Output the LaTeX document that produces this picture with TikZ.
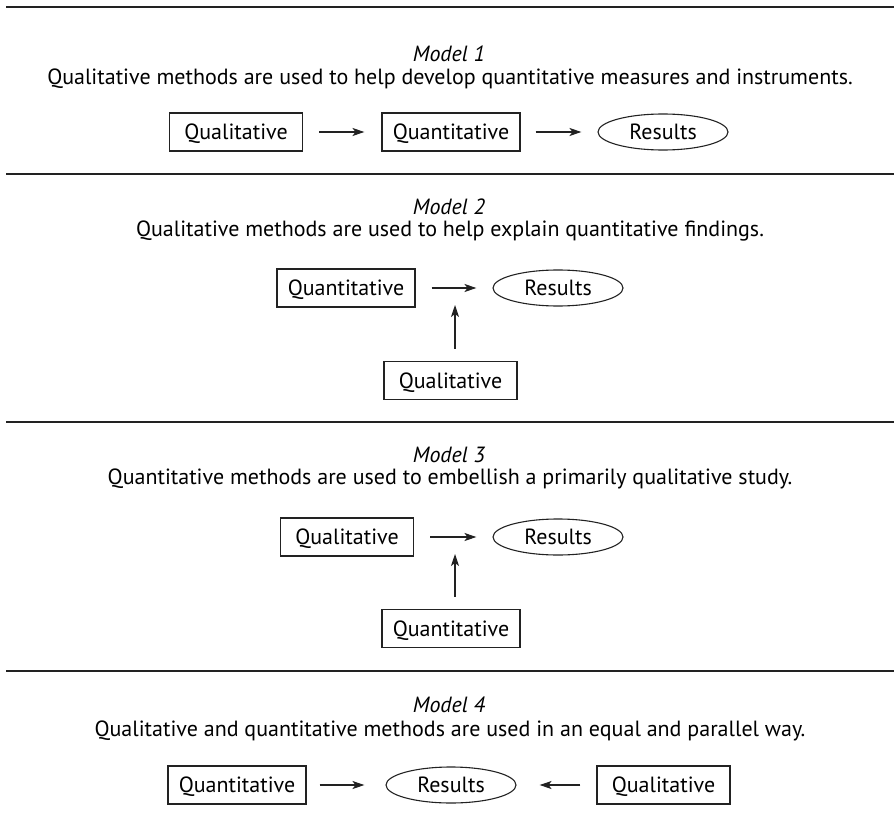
\documentclass[tikz,border=0pt]{standalone}
\usepackage{fontspec}
\setmainfont{PT Sans}
\usetikzlibrary{arrows.meta,shapes.geometric}
\definecolor{ink}{HTML}{222222}
\tikzset{
  box/.style={draw=ink, line width=1.1pt, minimum width=#1, minimum height=38pt, inner sep=0pt, text height=15pt, text depth=0pt, font=\fontsize{22}{26}\selectfont},
  box/.default=133pt,
  res/.style={draw=ink, line width=1.1pt, ellipse, minimum width=130pt, minimum height=36pt, inner sep=0pt, text height=15pt, text depth=0pt, font=\fontsize{22}{26}\selectfont},
  arr/.style={draw=ink, line width=1.1pt, -{Stealth[length=12pt,width=8pt,inset=3pt]}},
  rule/.style={draw=ink, line width=1.4pt},
  ttl/.style={font=\fontsize{22}{26}\selectfont\itshape},
  sub/.style={font=\fontsize{22}{26}\selectfont},
}
\begin{document}
\begin{tikzpicture}[x=1pt,y=-1pt]
\useasboundingbox (0,0) rectangle (894,829);
% rules
\coordinate (r1a) at (6,7);   \coordinate (r1b) at (894,7);
\coordinate (r2a) at (6,174); \coordinate (r2b) at (894,174);
\coordinate (r3a) at (6,422); \coordinate (r3b) at (894,422);
\coordinate (r4a) at (6,671); \coordinate (r4b) at (894,671);
\draw[rule] (r1a) -- (r1b);
\draw[rule] (r2a) -- (r2b);
\draw[rule] (r3a) -- (r3b);
\draw[rule] (r4a) -- (r4b);
% Model 1
\node[ttl] (t1) at (449,54) {Model 1};
\node[sub] (s1) at (450,79) {Qualitative methods are used to help develop quantitative measures and instruments.};
\node[box] (m1a) at (236,132) {Qualitative};
\node[box=138pt] (m1b) at (451,132) {Quantitative};
\node[res] (m1c) at (663,132) {Results};
\draw[arr, shorten <=16pt, shorten >=17pt] (m1a) -- (m1b);
\draw[arr, shorten <=15pt, shorten >=16pt] (m1b) -- (m1c);
% Model 2
\node[ttl] (t2) at (449,207) {Model 2};
\node[sub] (s2) at (450,231) {Qualitative methods are used to help explain quantitative findings.};
\node[box=138pt] (m2a) at (346,288) {Quantitative};
\node[res] (m2c) at (558,288) {Results};
\node[box] (m2b) at (450.5,380.5) {Qualitative};
\coordinate (m2t) at (455,305);
\draw[arr, shorten <=16pt, shorten >=16pt] (m2a) -- (m2c);
\draw[arr, shorten <=12pt] (m2b.north -| m2t) -- (m2t);
% Model 3
\node[ttl] (t3) at (449,455) {Model 3};
\node[sub] (s3) at (450,479) {Quantitative methods are used to embellish a primarily qualitative study.};
\node[box] (m3a) at (347,537) {Qualitative};
\node[res] (m3c) at (558,537) {Results};
\node[box=138pt] (m3b) at (451,628.5) {Quantitative};
\coordinate (m3t) at (455,554);
\draw[arr, shorten <=12pt] (m3b.north -| m3t) -- (m3t);
\draw[arr, shorten <=16pt, shorten >=16pt] (m3a) -- (m3c);
% Model 4
\node[ttl] (t4) at (449,705) {Model 4};
\node[sub] (s4) at (450,731) {Qualitative and quantitative methods are used in an equal and parallel way.};
\node[box=138pt] (m4a) at (237,785) {Quantitative};
\node[res] (m4c) at (451,785) {Results};
\node[box] (m4b) at (663.5,785) {Qualitative};
\draw[arr, shorten <=13pt, shorten >=21pt] (m4a) -- (m4c);
\draw[arr, shorten <=16pt, shorten >=23pt] (m4b) -- (m4c);
\end{tikzpicture}
\end{document}
